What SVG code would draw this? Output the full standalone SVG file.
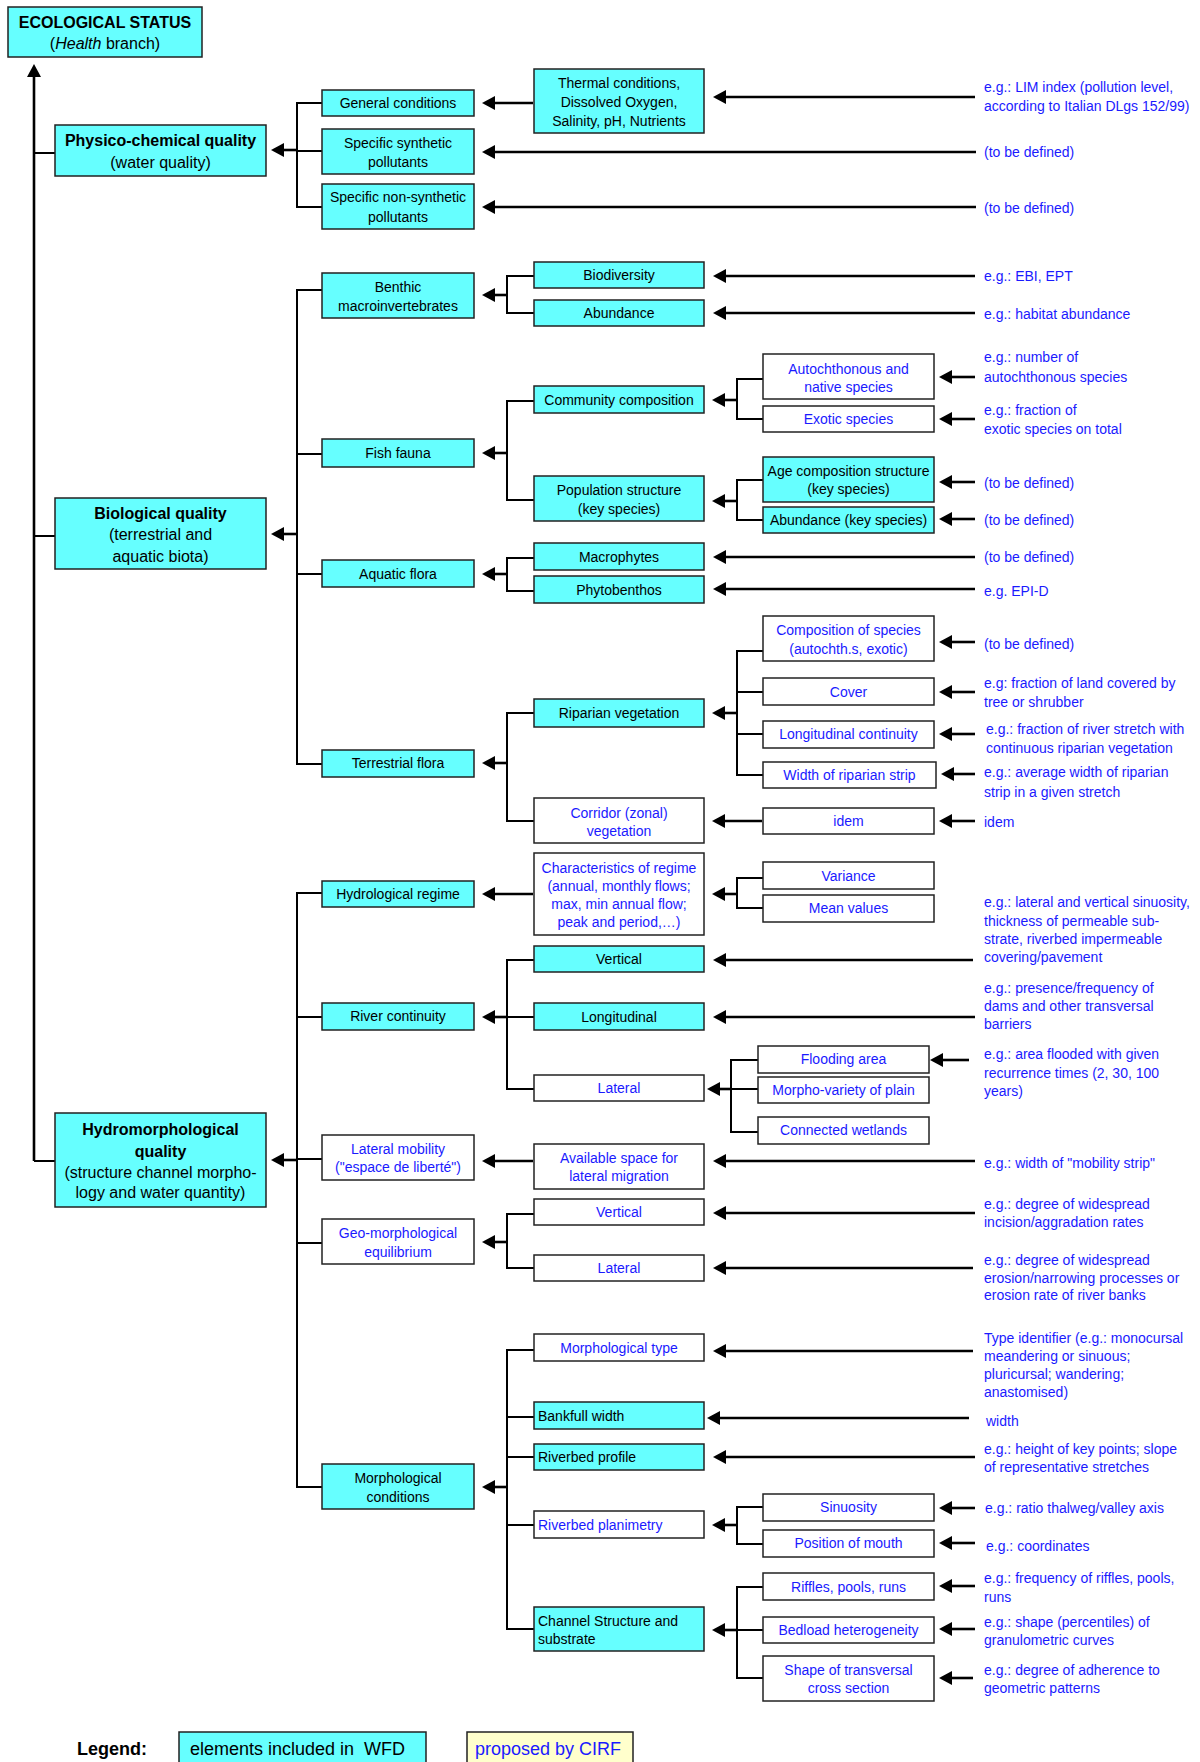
<svg xmlns="http://www.w3.org/2000/svg" width="1200" height="1762" viewBox="0 0 1200 1762">
<defs>
<style>
.c{fill:#66FFFF;stroke:#222;stroke-width:1.5}
.w{fill:#FFFFFF;stroke:#222;stroke-width:1.5}
.y{fill:#FFFFCC;stroke:#222;stroke-width:1.5}
text{font-family:"Liberation Sans",Arial,sans-serif;font-size:14px}
.t{text-anchor:middle;fill:#000}
.tb{text-anchor:middle;fill:#1a1aff}
.l{text-anchor:start;fill:#000}
.lb{text-anchor:start;fill:#1a1aff}
.a{text-anchor:start;fill:#1a1aff}
.big{font-size:16px}
.bold{font-weight:bold}
.tree{fill:none;stroke:#000;stroke-width:2}
.arr{fill:none;stroke:#000;stroke-width:2.6;marker-end:url(#ah)}
</style>
<marker id="ah" markerUnits="userSpaceOnUse" viewBox="0 0 13 14" markerWidth="13" markerHeight="14" refX="3" refY="7" orient="auto">
<path d="M0,0 L13,7 L0,14 Z" fill="#000"/>
</marker>
</defs>
<rect x="0" y="0" width="1200" height="1762" fill="#fff"/>

<g id="connectors">
<!-- main trunk -->
<path class="arr" d="M34,1161 V74"/>
<path class="tree" d="M34,153 H55 M34,536 H55 M34,1161 H55"/>
<!-- physico -->
<path class="tree" d="M322,103 H297 V207 H322 M297,151 H322"/>
<path class="arr" d="M297,150 H281"/>
<!-- bio -->
<path class="tree" d="M322,290 H297 V764 H322 M297,454 H322 M297,574 H322"/>
<path class="arr" d="M297,534 H281"/>
<!-- hydro -->
<path class="tree" d="M322,893 H297 V1487 H322 M297,1017 H322 M297,1159 H322 M297,1243 H322"/>
<path class="arr" d="M297,1160 H281"/>
<!-- col2 trees -->
<path class="tree" d="M534,276 H507 V313 H534"/>
<path class="arr" d="M507,295 H492"/>
<path class="tree" d="M534,401 H507 V500 H534"/>
<path class="arr" d="M507,453 H492"/>
<path class="tree" d="M534,558 H507 V591 H534"/>
<path class="arr" d="M507,574 H492"/>
<path class="tree" d="M534,713 H507 V821 H534"/>
<path class="arr" d="M507,763 H492"/>
<path class="tree" d="M534,960 H507 V1089 H534 M507,1017 H534"/>
<path class="arr" d="M507,1017 H492"/>
<path class="tree" d="M534,1214 H507 V1268 H534"/>
<path class="arr" d="M507,1242 H492"/>
<path class="tree" d="M534,1350 H507 V1629 H534 M507,1417 H534 M507,1457 H534 M507,1525 H534"/>
<path class="arr" d="M507,1487 H492"/>
<!-- col3 trees -->
<path class="tree" d="M763,379 H737 V419 H763"/>
<path class="arr" d="M737,400 H722"/>
<path class="tree" d="M763,480 H737 V520 H763"/>
<path class="arr" d="M737,501 H722"/>
<path class="tree" d="M763,651 H737 V775 H763 M737,692 H763 M737,734 H763"/>
<path class="arr" d="M737,713 H722"/>
<path class="tree" d="M763,878 H737 V908 H763"/>
<path class="arr" d="M737,894 H722"/>
<path class="tree" d="M758,1060 H731 V1132 H758 M731,1089 H758"/>
<path class="arr" d="M731,1089 H717"/>
<path class="tree" d="M763,1507 H737 V1544 H763"/>
<path class="arr" d="M737,1525 H722"/>
<path class="tree" d="M763,1587 H737 V1678 H763 M737,1630 H763"/>
<path class="arr" d="M737,1630 H722"/>
<!-- direct box arrows -->
<path class="arr" d="M533,103 H492"/>
<path class="arr" d="M533,894 H492"/>
<path class="arr" d="M533,1161 H492"/>
<path class="arr" d="M762,821 H722"/>
<!-- annotation arrows -->
<path class="arr" d="M975,97 H723"/>
<path class="arr" d="M976,152 H492"/>
<path class="arr" d="M976,207 H492"/>
<path class="arr" d="M975,276 H723"/>
<path class="arr" d="M975,313 H723"/>
<path class="arr" d="M975,377 H949"/>
<path class="arr" d="M975,419 H949"/>
<path class="arr" d="M975,482 H949"/>
<path class="arr" d="M975,519 H949"/>
<path class="arr" d="M975,557 H723"/>
<path class="arr" d="M975,589 H723"/>
<path class="arr" d="M975,642 H949"/>
<path class="arr" d="M975,692 H949"/>
<path class="arr" d="M975,734 H949"/>
<path class="arr" d="M975,774 H951"/>
<path class="arr" d="M975,821 H949"/>
<path class="arr" d="M973,960 H723"/>
<path class="arr" d="M975,1017 H723"/>
<path class="arr" d="M969,1060 H940"/>
<path class="arr" d="M975,1161 H723"/>
<path class="arr" d="M975,1213 H723"/>
<path class="arr" d="M973,1268 H723"/>
<path class="arr" d="M973,1351 H723"/>
<path class="arr" d="M969,1418 H717"/>
<path class="arr" d="M975,1457 H723"/>
<path class="arr" d="M975,1508 H949"/>
<path class="arr" d="M975,1543 H949"/>
<path class="arr" d="M975,1586 H949"/>
<path class="arr" d="M975,1629 H949"/>
<path class="arr" d="M973,1678 H949"/>
</g>

<g id="ecological-status"><rect class="c" x="8" y="7" width="194" height="50"/><text class="t big bold" x="105" y="28">ECOLOGICAL STATUS</text><text class="t big" x="105" y="49">(<tspan font-style="italic">Health</tspan> branch)</text></g>
<g id="physico-chemical"><rect class="c" x="55" y="125" width="211" height="51"/><text class="t big bold" x="160.5" y="146">Physico-chemical quality</text><text class="t big" x="160.5" y="168">(water quality)</text></g>
<g id="biological"><rect class="c" x="55" y="498" width="211" height="71"/><text class="t big bold" x="160.5" y="519">Biological quality</text><text class="t big" x="160.5" y="540">(terrestrial and</text><text class="t big" x="160.5" y="562">aquatic biota)</text></g>
<g id="hydromorphological"><rect class="c" x="55" y="1113" width="211" height="94"/><text class="t big bold" x="160.5" y="1135">Hydromorphological</text><text class="t big bold" x="160.5" y="1157">quality</text><text class="t big" x="160.5" y="1178">(structure channel morpho-</text><text class="t big" x="160.5" y="1198">logy and water quantity)</text></g>

<g id="general-conditions"><rect class="c" x="322" y="90" width="152" height="26"/><text class="t" x="398" y="108">General conditions</text></g>
<g id="synthetic"><rect class="c" x="322" y="129" width="152" height="45"/><text class="t" x="398" y="148">Specific synthetic</text><text class="t" x="398" y="167">pollutants</text></g>
<g id="non-synthetic"><rect class="c" x="322" y="184" width="152" height="45"/><text class="t" x="398" y="202">Specific non-synthetic</text><text class="t" x="398" y="222">pollutants</text></g>
<g id="benthic"><rect class="c" x="322" y="273" width="152" height="45"/><text class="t" x="398" y="292">Benthic</text><text class="t" x="398" y="311">macroinvertebrates</text></g>
<g id="fish-fauna"><rect class="c" x="322" y="439" width="152" height="28"/><text class="t" x="398" y="458">Fish fauna</text></g>
<g id="aquatic-flora"><rect class="c" x="322" y="560" width="152" height="27"/><text class="t" x="398" y="579">Aquatic flora</text></g>
<g id="terrestrial-flora"><rect class="c" x="322" y="750" width="152" height="27"/><text class="t" x="398" y="768">Terrestrial flora</text></g>
<g id="hydrological-regime"><rect class="c" x="322" y="881" width="152" height="26"/><text class="t" x="398" y="899">Hydrological regime</text></g>
<g id="river-continuity"><rect class="c" x="322" y="1003" width="152" height="27"/><text class="t" x="398" y="1021">River continuity</text></g>
<g id="lateral-mobility"><rect class="w" x="322" y="1135" width="152" height="45"/><text class="tb" x="398" y="1154">Lateral mobility</text><text class="tb" x="398" y="1172">("espace de liberté")</text></g>
<g id="geo-morphological"><rect class="w" x="322" y="1219" width="152" height="45"/><text class="tb" x="398" y="1238">Geo-morphological</text><text class="tb" x="398" y="1257">equilibrium</text></g>
<g id="morphological-conditions"><rect class="c" x="322" y="1464" width="152" height="45"/><text class="t" x="398" y="1483">Morphological</text><text class="t" x="398" y="1502">conditions</text></g>

<g id="thermal"><rect class="c" x="534" y="69" width="170" height="64"/><text class="t" x="619" y="88">Thermal conditions,</text><text class="t" x="619" y="107">Dissolved Oxygen,</text><text class="t" x="619" y="126">Salinity, pH, Nutrients</text></g>
<g id="biodiversity"><rect class="c" x="534" y="262" width="170" height="26"/><text class="t" x="619" y="280">Biodiversity</text></g>
<g id="abundance"><rect class="c" x="534" y="300" width="170" height="26"/><text class="t" x="619" y="318">Abundance</text></g>
<g id="community"><rect class="c" x="534" y="386" width="170" height="27"/><text class="t" x="619" y="405">Community composition</text></g>
<g id="population"><rect class="c" x="534" y="476" width="170" height="45"/><text class="t" x="619" y="495">Population structure</text><text class="t" x="619" y="514">(key species)</text></g>
<g id="macrophytes"><rect class="c" x="534" y="543" width="170" height="27"/><text class="t" x="619" y="562">Macrophytes</text></g>
<g id="phytobenthos"><rect class="c" x="534" y="576" width="170" height="27"/><text class="t" x="619" y="595">Phytobenthos</text></g>
<g id="riparian"><rect class="c" x="534" y="699" width="170" height="28"/><text class="t" x="619" y="718">Riparian vegetation</text></g>
<g id="corridor"><rect class="w" x="534" y="798" width="170" height="45"/><text class="tb" x="619" y="818">Corridor (zonal)</text><text class="tb" x="619" y="836">vegetation</text></g>
<g id="characteristics"><rect class="w" x="534" y="853" width="170" height="82"/><text class="tb" x="619" y="873">Characteristics of regime</text><text class="tb" x="619" y="891">(annual, monthly flows;</text><text class="tb" x="619" y="909">max, min annual flow;</text><text class="tb" x="619" y="927">peak and period,…)</text></g>
<g id="vertical-cont"><rect class="c" x="534" y="946" width="170" height="26"/><text class="t" x="619" y="964">Vertical</text></g>
<g id="longitudinal-cont"><rect class="c" x="534" y="1003" width="170" height="27"/><text class="t" x="619" y="1022">Longitudinal</text></g>
<g id="lateral-cont"><rect class="w" x="534" y="1075" width="170" height="26"/><text class="tb" x="619" y="1093">Lateral</text></g>
<g id="available-space"><rect class="w" x="534" y="1144" width="170" height="45"/><text class="tb" x="619" y="1163">Available space for</text><text class="tb" x="619" y="1181">lateral migration</text></g>
<g id="vertical-geo"><rect class="w" x="534" y="1199" width="170" height="26"/><text class="tb" x="619" y="1217">Vertical</text></g>
<g id="lateral-geo"><rect class="w" x="534" y="1255" width="170" height="26"/><text class="tb" x="619" y="1273">Lateral</text></g>
<g id="morphological-type"><rect class="w" x="534" y="1334" width="170" height="27"/><text class="tb" x="619" y="1353">Morphological type</text></g>
<g id="bankfull"><rect class="c" x="534" y="1402" width="170" height="27"/><text class="l" x="538" y="1421">Bankfull width</text></g>
<g id="riverbed-profile"><rect class="c" x="534" y="1444" width="170" height="26"/><text class="l" x="538" y="1462">Riverbed profile</text></g>
<g id="riverbed-planimetry"><rect class="w" x="534" y="1511" width="170" height="27"/><text class="lb" x="538" y="1530">Riverbed planimetry</text></g>
<g id="channel-structure"><rect class="c" x="534" y="1607" width="170" height="44"/><text class="l" x="538" y="1626">Channel Structure and</text><text class="l" x="538" y="1644">substrate</text></g>

<g id="autochthonous"><rect class="w" x="763" y="354" width="171" height="45"/><text class="tb" x="848.5" y="374">Autochthonous and</text><text class="tb" x="848.5" y="392">native species</text></g>
<g id="exotic"><rect class="w" x="763" y="406" width="171" height="26"/><text class="tb" x="848.5" y="424">Exotic species</text></g>
<g id="age-composition"><rect class="c" x="763" y="457" width="171" height="45"/><text class="t" x="848.5" y="476">Age composition structure</text><text class="t" x="848.5" y="494">(key species)</text></g>
<g id="abundance-key"><rect class="c" x="763" y="507" width="171" height="26"/><text class="t" x="848.5" y="525">Abundance (key species)</text></g>
<g id="composition-species"><rect class="w" x="763" y="616" width="171" height="45"/><text class="tb" x="848.5" y="635">Composition of species</text><text class="tb" x="848.5" y="654">(autochth.s, exotic)</text></g>
<g id="cover"><rect class="w" x="763" y="678" width="171" height="27"/><text class="tb" x="848.5" y="697">Cover</text></g>
<g id="longitudinal-continuity"><rect class="w" x="763" y="721" width="171" height="27"/><text class="tb" x="848.5" y="739">Longitudinal continuity</text></g>
<g id="width-strip"><rect class="w" x="763" y="762" width="173" height="26"/><text class="tb" x="849.5" y="780">Width of riparian strip</text></g>
<g id="idem"><rect class="w" x="763" y="808" width="171" height="26"/><text class="tb" x="848.5" y="826">idem</text></g>
<g id="variance"><rect class="w" x="763" y="862" width="171" height="27"/><text class="tb" x="848.5" y="881">Variance</text></g>
<g id="mean-values"><rect class="w" x="763" y="895" width="171" height="27"/><text class="tb" x="848.5" y="913">Mean values</text></g>
<g id="flooding-area"><rect class="w" x="758" y="1046" width="171" height="27"/><text class="tb" x="843.5" y="1064">Flooding area</text></g>
<g id="morpho-variety"><rect class="w" x="758" y="1077" width="171" height="26"/><text class="tb" x="843.5" y="1095">Morpho-variety of plain</text></g>
<g id="connected-wetlands"><rect class="w" x="758" y="1117" width="171" height="27"/><text class="tb" x="843.5" y="1135">Connected wetlands</text></g>
<g id="sinuosity"><rect class="w" x="763" y="1494" width="171" height="27"/><text class="tb" x="848.5" y="1512">Sinuosity</text></g>
<g id="position-mouth"><rect class="w" x="763" y="1530" width="171" height="27"/><text class="tb" x="848.5" y="1548">Position of mouth</text></g>
<g id="riffles"><rect class="w" x="763" y="1573" width="171" height="27"/><text class="tb" x="848.5" y="1592">Riffles, pools, runs</text></g>
<g id="bedload"><rect class="w" x="763" y="1617" width="171" height="26"/><text class="tb" x="848.5" y="1635">Bedload heterogeneity</text></g>
<g id="shape-section"><rect class="w" x="763" y="1656" width="171" height="45"/><text class="tb" x="848.5" y="1675">Shape of transversal</text><text class="tb" x="848.5" y="1693">cross section</text></g>

<g id="annotations">
<text class="a" x="984" y="92">e.g.: LIM index (pollution level,</text>
<text class="a" x="984" y="111">according to Italian DLgs 152/99)</text>
<text class="a" x="984" y="157">(to be defined)</text>
<text class="a" x="984" y="213">(to be defined)</text>
<text class="a" x="984" y="281">e.g.: EBI, EPT</text>
<text class="a" x="984" y="319">e.g.: habitat abundance</text>
<text class="a" x="984" y="362">e.g.: number of</text>
<text class="a" x="984" y="382">autochthonous species</text>
<text class="a" x="984" y="415">e.g.: fraction of</text>
<text class="a" x="984" y="434">exotic species on total</text>
<text class="a" x="984" y="488">(to be defined)</text>
<text class="a" x="984" y="525">(to be defined)</text>
<text class="a" x="984" y="562">(to be defined)</text>
<text class="a" x="984" y="596">e.g. EPI-D</text>
<text class="a" x="984" y="649">(to be defined)</text>
<text class="a" x="984" y="688">e.g: fraction of land covered by</text>
<text class="a" x="984" y="707">tree or shrubber</text>
<text class="a" x="986" y="734">e.g.: fraction of river stretch with</text>
<text class="a" x="986" y="753">continuous riparian vegetation</text>
<text class="a" x="984" y="777">e.g.: average width of riparian</text>
<text class="a" x="984" y="797">strip in a given stretch</text>
<text class="a" x="984" y="827">idem</text>
<text class="a" x="984" y="907">e.g.: lateral and vertical sinuosity,</text>
<text class="a" x="984" y="926">thickness of permeable sub-</text>
<text class="a" x="984" y="944">strate, riverbed impermeable</text>
<text class="a" x="984" y="962">covering/pavement</text>
<text class="a" x="984" y="993">e.g.: presence/frequency of</text>
<text class="a" x="984" y="1011">dams and other transversal</text>
<text class="a" x="984" y="1029">barriers</text>
<text class="a" x="984" y="1059">e.g.: area flooded with given</text>
<text class="a" x="984" y="1078">recurrence times (2, 30, 100</text>
<text class="a" x="984" y="1096">years)</text>
<text class="a" x="984" y="1168">e.g.: width of "mobility strip"</text>
<text class="a" x="984" y="1209">e.g.: degree of widespread</text>
<text class="a" x="984" y="1227">incision/aggradation rates</text>
<text class="a" x="984" y="1265">e.g.: degree of widespread</text>
<text class="a" x="984" y="1283">erosion/narrowing processes or</text>
<text class="a" x="984" y="1300">erosion rate of river banks</text>
<text class="a" x="984" y="1343">Type identifier (e.g.: monocursal</text>
<text class="a" x="984" y="1361">meandering or sinuous;</text>
<text class="a" x="984" y="1379">pluricursal; wandering;</text>
<text class="a" x="984" y="1397">anastomised)</text>
<text class="a" x="986" y="1426">width</text>
<text class="a" x="984" y="1454">e.g.: height of key points; slope</text>
<text class="a" x="984" y="1472">of representative stretches</text>
<text class="a" x="985" y="1513">e.g.: ratio thalweg/valley axis</text>
<text class="a" x="986" y="1551">e.g.: coordinates</text>
<text class="a" x="984" y="1583">e.g.: frequency of riffles, pools,</text>
<text class="a" x="984" y="1602">runs</text>
<text class="a" x="984" y="1627">e.g.: shape (percentiles) of</text>
<text class="a" x="984" y="1645">granulometric curves</text>
<text class="a" x="984" y="1675">e.g.: degree of adherence to</text>
<text class="a" x="984" y="1693">geometric patterns</text>
</g>

<g id="legend">
<text class="l bold" x="77" y="1755" style="font-size:18px">Legend:</text>
<rect class="c" x="179" y="1732" width="247" height="40"/>
<text class="l" x="190" y="1755" style="font-size:18px;white-space:pre">elements included in  WFD</text>
<rect class="y" x="467" y="1732" width="166" height="40"/>
<text class="lb" x="475" y="1755" style="font-size:18px">proposed by CIRF</text>
</g>
</svg>
